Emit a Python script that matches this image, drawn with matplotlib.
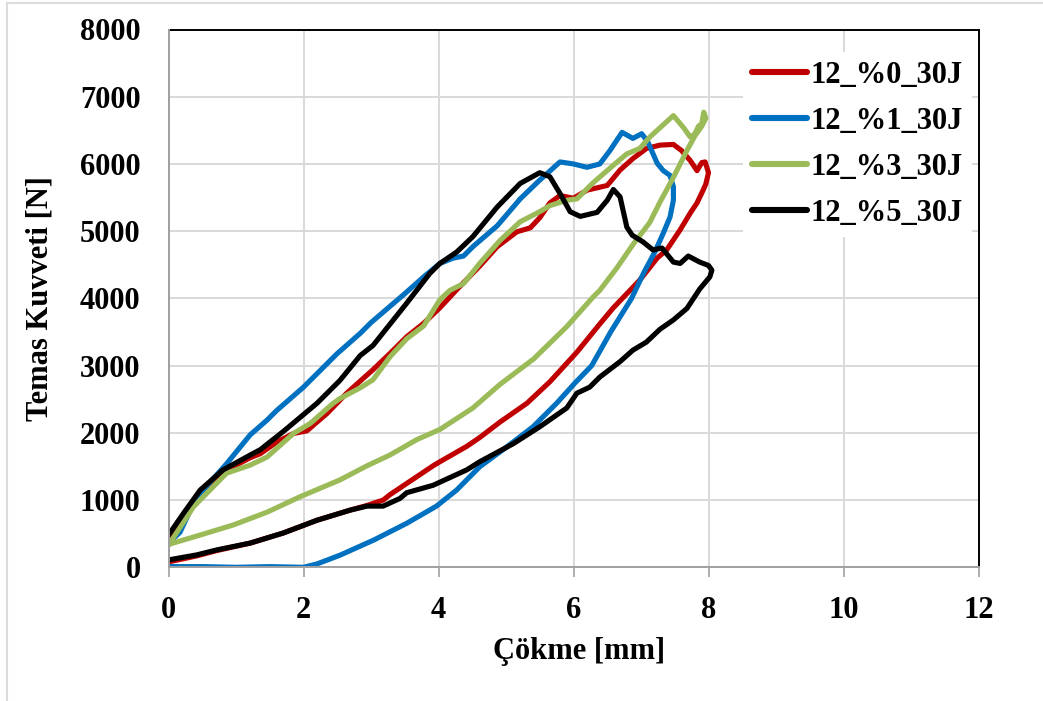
import matplotlib
matplotlib.use("Agg")
import matplotlib.pyplot as plt
from matplotlib.lines import Line2D

# ---------------- data ----------------
labels = ["12_%0_30J", "12_%1_30J", "12_%3_30J", "12_%5_30J"]
colors = ["#C00000", "#0070C0", "#9BBB59", "#000000"]

red_x = [0.00, 0.22, 0.47, 0.81, 1.21, 1.36, 1.60, 1.85, 2.05, 2.35, 2.64, 2.84, 3.03, 3.28, 3.53, 3.78,
         4.02, 4.27, 4.61, 4.87, 5.16, 5.36, 5.50, 5.65, 5.80, 6.00, 6.20, 6.50, 6.69, 6.88, 7.08, 7.28,
         7.48, 7.60, 7.73, 7.83, 7.90, 7.95, 8.00,
         7.96, 7.92, 7.83, 7.73, 7.58, 7.38, 7.24, 6.98, 6.79, 6.59, 6.39, 6.05, 5.65, 5.31, 4.91, 4.61,
         4.42, 4.02, 3.92, 3.28, 3.18, 2.94, 2.69, 2.20, 1.70, 1.21, 0.72, 0.42, 0.00]
red_y = [430, 780, 1120, 1420, 1630, 1690, 1860, 1990, 2030, 2290, 2590, 2770, 2940, 3180, 3430, 3630,
         3860, 4130, 4480, 4770, 4990, 5050, 5200, 5420, 5530, 5490, 5610, 5680, 5910, 6080, 6230, 6280,
         6290, 6200, 6050, 5900, 6020, 6030, 5870,
         5700, 5610, 5420, 5270, 5020, 4720, 4600, 4270, 4070, 3860, 3620, 3200, 2760, 2440, 2160, 1930,
         1800, 1570, 1510, 1080, 1000, 920, 850, 700, 510, 360, 250, 170, 80]

blue_x = [0.00, 0.17, 0.37, 0.47, 0.86, 1.21, 1.46, 1.60, 2.00, 2.50, 2.84, 3.00, 3.50, 3.78, 4.02, 4.22,
          4.37, 4.51, 4.87, 5.21, 5.50, 5.80, 6.00, 6.20, 6.39, 6.54, 6.72, 6.88, 7.01, 7.10, 7.24, 7.33,
          7.43, 7.48,
          7.48, 7.43, 7.33, 7.20, 7.05, 6.86, 6.55, 6.27, 6.02, 5.75, 5.40, 5.01, 4.61, 4.27, 3.97, 3.53,
          3.04, 2.54, 2.20, 2.00, 1.50, 1.00, 0.50, 0.00]
blue_y = [360, 520, 950, 1100, 1540, 1970, 2190, 2330, 2680, 3180, 3480, 3640, 4070, 4320, 4520, 4600,
          4630, 4770, 5080, 5480, 5760, 6030, 6000, 5950, 6000, 6200, 6470, 6380, 6450, 6330, 6010, 5900,
          5830, 5660,
          5460, 5210, 4970, 4680, 4400, 4000, 3500, 3000, 2740, 2440, 2090, 1790, 1495, 1150, 910, 655,
          405, 180, 50, 0, 10, 0, 10, 10]

green_x = [0.00, 0.37, 0.86, 1.21, 1.46, 1.85, 2.10, 2.44, 2.54, 2.84, 3.03, 3.28, 3.53, 3.78, 4.02, 4.17,
           4.37, 4.61, 4.91, 5.21, 5.50, 5.65, 5.90, 6.05, 6.29, 6.59, 6.79, 6.98, 7.13, 7.24, 7.48, 7.63,
           7.73, 7.80, 7.85, 7.90, 7.93, 7.96,
           7.90, 7.80, 7.68, 7.48, 7.28, 7.13, 6.88, 6.64, 6.39, 6.29, 5.90, 5.41, 4.91, 4.51, 4.02, 3.68,
           3.28, 2.94, 2.54, 1.95, 1.46, 0.96, 0.47, 0.00]
green_y = [330, 900, 1400, 1520, 1640, 1990, 2140, 2440, 2510, 2670, 2790, 3130, 3400, 3590, 3980, 4120,
           4220, 4520, 4860, 5140, 5290, 5380, 5460, 5480, 5720, 5980, 6150, 6230, 6400, 6500, 6720, 6540,
           6400, 6450, 6560, 6600, 6770, 6680,
           6560, 6420, 6200, 5800, 5430, 5130, 4800, 4450, 4120, 4020, 3580, 3100, 2720, 2370, 2050, 1900,
           1670, 1510, 1300, 1050, 820, 630, 480, 340]

black_x = [0.00, 0.22, 0.47, 0.81, 1.21, 1.36, 1.70, 2.20, 2.54, 2.84, 3.03, 3.53, 3.87, 4.02, 4.27, 4.51,
           4.87, 5.21, 5.50, 5.65, 5.80, 5.95, 6.10, 6.35, 6.50, 6.59, 6.69, 6.79, 6.87, 7.03, 7.18, 7.31,
           7.48, 7.58, 7.70, 7.87, 8.00, 8.05,
           8.02, 7.87, 7.68, 7.48, 7.28, 7.08, 6.88, 6.69, 6.39, 6.24, 6.05, 5.90, 5.50, 5.11, 4.61, 4.42,
           3.92, 3.53, 3.43, 3.18, 2.94, 2.69, 2.20, 1.70, 1.21, 0.72, 0.42, 0.00]
black_y = [480, 800, 1150, 1450, 1670, 1750, 2020, 2440, 2780, 3150, 3300, 3930, 4370, 4520, 4690, 4920,
           5360, 5710, 5870, 5810, 5560, 5290, 5220, 5280, 5460, 5620, 5510, 5060, 4940, 4840, 4720, 4750,
           4540, 4520, 4630, 4540, 4490, 4420,
           4320, 4140, 3850, 3680, 3540, 3350, 3230, 3060, 2830, 2680, 2590, 2370, 2090, 1840, 1570, 1450,
           1220, 1110, 1025, 910, 910, 850, 700, 510, 360, 260, 185, 110]

x_ticks = [0, 2, 4, 6, 8, 10, 12]
y_ticks = [0, 1000, 2000, 3000, 4000, 5000, 6000, 7000, 8000]
xlabel = "Çökme [mm]"
ylabel = "Temas Kuvveti [N]"

# ---------------- figure ----------------
W, H = 1043, 701
plt.rcParams["font.family"] = ["Liberation Serif", "DejaVu Serif"]
plt.rcParams["font.weight"] = "bold"
fig = plt.figure(figsize=(W / 100, H / 100), dpi=100)
ax = fig.add_axes([168.5 / W, 1 - 567.3 / H, 810 / W, 537.8 / H])

series = [(red_x, red_y), (blue_x, blue_y), (green_x, green_y), (black_x, black_y)]
for (xs, ys), c, lab in zip(series, colors, labels):
    ax.plot(xs, ys, color=c, lw=3.7, label=lab, solid_joinstyle="round", solid_capstyle="round", zorder=3)

ax.set_xlim(0, 12)
ax.set_ylim(0, 8000)
ax.set_xticks(x_ticks)
ax.set_yticks(y_ticks)
ax.grid(True, color="#d9d9d9", lw=1.4, zorder=0)
ax.set_axisbelow(True)

for s in ["top", "right"]:
    ax.spines[s].set_color("black")
    ax.spines[s].set_linewidth(1.4)
for s in ["left", "bottom"]:
    ax.spines[s].set_color("#a0a0a0")
    ax.spines[s].set_linewidth(1.4)
    ax.spines[s].set_zorder(4)

ax.tick_params(axis="x", direction="out", length=7, width=1.2, color="#a0a0a0", pad=14,
               labelsize=22)
ax.tick_params(axis="y", length=0, pad=20, labelsize=22)
for t in ax.get_xticklabels() + ax.get_yticklabels():
    t.set_fontweight("bold")

ax.set_xlabel(xlabel, fontsize=22, fontweight="bold")
ax.xaxis.set_label_coords(0.5063, (567.3 - 651) / 537.8)
ax.xaxis.label.set_va("center")
ax.set_ylabel(ylabel, fontsize=22, fontweight="bold")
ax.yaxis.set_label_coords((40 - 168.5) / 810, 0.5)
ax.yaxis.label.set_va("center")

leg = ax.legend(loc="upper left", bbox_to_anchor=(743 / W, 1 - 52 / H), bbox_transform=fig.transFigure,
                frameon=True, fancybox=False, edgecolor="none", facecolor="white", framealpha=1,
                prop={"family": "Liberation Serif", "weight": "bold", "size": 22},
                handlelength=1.8, handletextpad=0.1, labelspacing=0.55, borderpad=0.3,
                borderaxespad=0)
for h in leg.get_lines():
    h.set_linewidth(4.4)
    h.set_solid_capstyle("round")

# faint outer border
fig.add_artist(Line2D([7 / W, 1], [1 - 3 / H, 1 - 3 / H], transform=fig.transFigure, color="#dcdcdc", lw=1.5))
fig.add_artist(Line2D([7 / W, 7 / W], [0, 1 - 3 / H], transform=fig.transFigure, color="#dcdcdc", lw=1.5))

fig.savefig("out.png", dpi=100)
